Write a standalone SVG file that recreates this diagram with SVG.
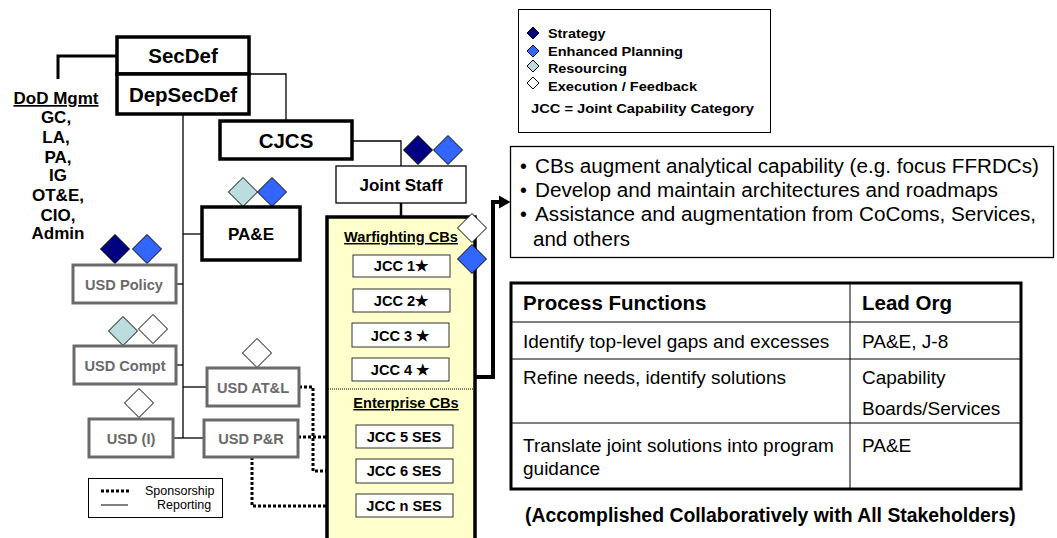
<svg xmlns="http://www.w3.org/2000/svg" width="1057" height="538" viewBox="0 0 1057 538">
<style>
text{font-family:"Liberation Sans",Arial,sans-serif}
.big{font-size:20.5px;font-weight:bold;text-anchor:middle;fill:#000}
.mid{font-size:17px;font-weight:bold;text-anchor:middle;fill:#000}
.usd{font-size:14.6px;font-weight:bold;text-anchor:middle;fill:#6a6a6a}
.jcc{font-size:14.6px;font-weight:bold;text-anchor:middle;fill:#000}
.thick{fill:#fff;stroke:#000;stroke-width:3.5}
.gray{fill:#fff;stroke:#6a6a6a;stroke-width:3}
.thin{fill:#fff;stroke:#000;stroke-width:1.3}
.jbox{fill:#fff;stroke:#333;stroke-width:1}
.rep{fill:none;stroke:#000;stroke-width:1.3}
.spon{fill:none;stroke:#000;stroke-width:3;stroke-dasharray:3 2}
.dk{fill:#000080;stroke:#000;stroke-width:1}
.bl{fill:#3366ff;stroke:#000;stroke-width:1}
.lb{fill:#bbdddd;stroke:#000;stroke-width:1}
.wh{fill:#fff;stroke:#000;stroke-width:1}
.lg{font-size:13px;font-weight:bold;fill:#000}
.bul{font-size:19.5px;fill:#000}
.tb{font-size:19px;fill:#000}
.th{font-size:20.5px;font-weight:bold;fill:#000}
</style>
<defs>
<polygon id="d" points="0,-14.5 14.5,0 0,14.5 -14.5,0"/>
<polygon id="ds" points="0,-6 6,0 0,6 -6,0"/>
</defs>

<!-- connectors -->
<g id="connectors">
<path d="M117,56 H58 V79" fill="none" stroke="#000" stroke-width="3"/>
<path class="rep" d="M249,74 H286 V121"/>
<path class="rep" d="M183,114 V438"/>
<path class="rep" d="M183,234 H202"/>
<path class="rep" d="M176,284 H183"/>
<path class="rep" d="M176,365 H183"/>
<path class="rep" d="M183,387 H207"/>
<path class="rep" d="M173,438 H204"/>
<path class="rep" d="M352,141 H401 V166"/>
<path d="M401,203 V217" stroke="#000" stroke-width="2.5"/>
<path class="spon" d="M299,387 H313 V471 H356"/>
<path class="spon" d="M298,437 H356"/>
<path class="spon" d="M252,457 V506 H356"/>
<path d="M475,377 H493 V202 H501" fill="none" stroke="#000" stroke-width="4"/>
<polygon points="499,195.5 510.5,202 499,208.5" fill="#000"/>
</g>

<!-- DoD Mgmt -->
<g id="dodmgmt">
<text class="mid" x="56" y="104" text-decoration="underline">DoD Mgmt</text>
<text class="mid" x="56" y="123">GC,</text>
<text class="mid" x="56" y="143">LA,</text>
<text class="mid" x="58" y="163">PA,</text>
<text class="mid" x="58" y="181">IG</text>
<text class="mid" x="58" y="201">OT&amp;E,</text>
<text class="mid" x="58" y="221">CIO,</text>
<text class="mid" x="58" y="239">Admin</text>
</g>

<g id="secdef"><rect class="thick" x="117" y="37" width="132" height="37"/><text class="big" x="183" y="63">SecDef</text></g>
<g id="depsecdef"><rect class="thick" x="117" y="74" width="132" height="40"/><text class="big" x="183" y="102">DepSecDef</text></g>
<g id="cjcs"><rect class="thick" x="220" y="121" width="132" height="38"/><text class="big" x="286" y="148">CJCS</text></g>

<g id="pae">
<use href="#d" class="lb" x="243" y="192"/>
<use href="#d" class="bl" x="272" y="192"/>
<rect class="thick" x="202" y="207" width="98" height="53"/><text class="mid" x="251" y="240">PA&amp;E</text>
</g>

<g id="usdpolicy">
<use href="#d" class="dk" x="115" y="249"/>
<use href="#d" class="bl" x="147" y="249"/>
<rect class="gray" x="73" y="265" width="103" height="38"/><text class="usd" x="124" y="290">USD Policy</text>
</g>
<g id="usdcompt">
<use href="#d" class="lb" x="123" y="331"/>
<use href="#d" class="wh" x="153" y="329"/>
<rect class="gray" x="74" y="346" width="102" height="38"/><text class="usd" x="125" y="371">USD Compt</text>
</g>
<g id="usdatl">
<use href="#d" class="wh" x="257" y="353"/>
<rect class="gray" x="207" y="368" width="92" height="38"/><text class="usd" x="253" y="393">USD AT&amp;L</text>
</g>
<g id="usdi">
<use href="#d" class="wh" x="139" y="403"/>
<rect class="gray" x="89" y="419" width="84" height="38"/><text class="usd" x="131" y="444">USD (I)</text>
</g>
<g id="usdpr">
<rect class="gray" x="204" y="420" width="94" height="37"/><text class="usd" x="251" y="444">USD P&amp;R</text>
</g>

<g id="legend-bottom">
<rect x="88.5" y="478.5" width="134" height="39" fill="#fff" stroke="#000" stroke-width="1"/>
<path class="spon" d="M101,491 H131"/>
<path d="M101,505 H128" stroke="#000" stroke-width="1"/>
<text x="145" y="495" font-size="12.5px">Sponsorship</text>
<text x="157" y="509" font-size="12.5px">Reporting</text>
</g>

<g id="jointstaff">
<use href="#d" class="dk" x="418" y="150"/>
<use href="#d" class="bl" x="448" y="150"/>
<rect class="thin" x="336" y="166" width="130" height="37"/><text class="mid" x="401" y="191">Joint Staff</text>
</g>

<g id="cbpanel">
<rect x="327" y="217" width="148" height="340" fill="#ffffcc" stroke="#000" stroke-width="3.5"/>
<path d="M328,389 H474" stroke="#000" stroke-width="1" stroke-dasharray="1 1"/>
<text class="jcc" x="401" y="242" text-decoration="underline">Warfighting CBs</text>
<text class="jcc" x="406" y="408" text-decoration="underline">Enterprise CBs</text>
<use href="#d" class="wh" x="472" y="228"/>
<use href="#d" class="bl" x="472" y="259"/>
</g>
<g id="jcc1"><rect class="jbox" x="353" y="255" width="97" height="22"/><text class="jcc" x="401" y="271">JCC 1★</text></g>
<g id="jcc2"><rect class="jbox" x="353" y="289" width="97" height="23"/><text class="jcc" x="401" y="306">JCC 2★</text></g>
<g id="jcc3"><rect class="jbox" x="352" y="323" width="97" height="24"/><text class="jcc" x="400" y="341">JCC 3 ★</text></g>
<g id="jcc4"><rect class="jbox" x="352" y="358" width="97" height="23"/><text class="jcc" x="400" y="375">JCC 4 ★</text></g>
<g id="jcc5"><rect class="jbox" x="356" y="425" width="97" height="23"/><text class="jcc" x="404" y="442">JCC 5 SES</text></g>
<g id="jcc6"><rect class="jbox" x="356" y="459" width="97" height="24"/><text class="jcc" x="404" y="476">JCC 6 SES</text></g>
<g id="jccn"><rect class="jbox" x="356" y="494" width="97" height="23"/><text class="jcc" x="404" y="511">JCC n SES</text></g>

<g id="legend-top">
<rect x="518.5" y="9.5" width="252" height="123" fill="#fff" stroke="#000" stroke-width="1"/>
<use href="#ds" class="dk" x="533" y="33"/>
<use href="#ds" class="bl" x="533" y="51"/>
<use href="#ds" class="lb" x="533" y="66"/>
<use href="#ds" class="wh" x="533" y="83"/>
<text class="lg" x="548" y="38" textLength="57.5" lengthAdjust="spacingAndGlyphs">Strategy</text>
<text class="lg" x="548" y="56" textLength="135" lengthAdjust="spacingAndGlyphs">Enhanced Planning</text>
<text class="lg" x="548" y="73" textLength="79" lengthAdjust="spacingAndGlyphs">Resourcing</text>
<text class="lg" x="548" y="91" textLength="149" lengthAdjust="spacingAndGlyphs">Execution / Feedback</text>
<text class="lg" x="531" y="113" textLength="223" lengthAdjust="spacingAndGlyphs">JCC = Joint Capability Category</text>
</g>

<g id="bullets">
<rect x="510.5" y="146.5" width="543" height="111" fill="#fff" stroke="#000" stroke-width="1.3"/>
<text class="bul" x="520" y="173">•</text>
<text class="bul" x="520" y="197">•</text>
<text class="bul" x="520" y="221">•</text>
<text class="bul" x="535" y="173" textLength="504" lengthAdjust="spacingAndGlyphs">CBs augment analytical capability (e.g. focus FFRDCs)</text>
<text class="bul" x="535" y="197" textLength="463" lengthAdjust="spacingAndGlyphs">Develop and maintain architectures and roadmaps</text>
<text class="bul" x="535" y="221" textLength="501" lengthAdjust="spacingAndGlyphs">Assistance and augmentation from CoComs, Services,</text>
<text class="bul" x="533" y="246" textLength="97" lengthAdjust="spacingAndGlyphs">and others</text>
</g>

<g id="table">
<rect x="511" y="283" width="510" height="206" fill="#fff" stroke="#000" stroke-width="3"/>
<path d="M850,283 V489 M511,322 H1021 M511,359 H1021 M511,423 H1021" stroke="#000" stroke-width="1"/>
<text class="th" x="523" y="310">Process Functions</text>
<text class="th" x="862" y="310">Lead Org</text>
<text class="tb" x="523" y="348">Identify top-level gaps and excesses</text>
<text class="tb" x="862" y="348">PA&amp;E, J-8</text>
<text class="tb" x="523" y="384">Refine needs, identify solutions</text>
<text class="tb" x="862" y="384">Capability</text>
<text class="tb" x="862" y="415">Boards/Services</text>
<text class="tb" x="523" y="452">Translate joint solutions into program</text>
<text class="tb" x="523" y="475">guidance</text>
<text class="tb" x="862" y="452">PA&amp;E</text>
</g>
<text x="525" y="522" font-size="19.4px" font-weight="bold">(Accomplished Collaboratively with All Stakeholders)</text>
</svg>
